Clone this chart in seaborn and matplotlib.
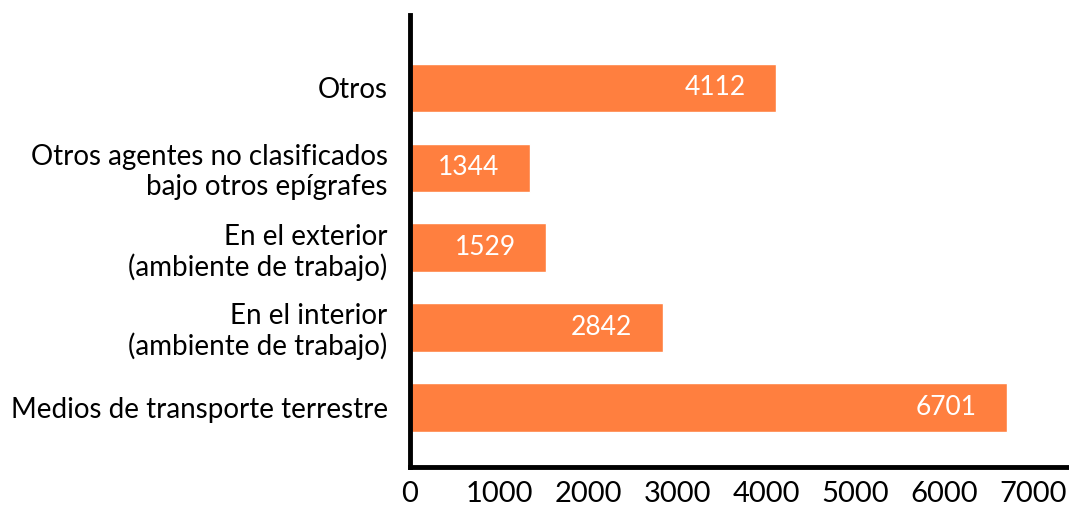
import seaborn as sns
import matplotlib.pyplot as plt
import pandas as pd

# data
categorias = ["Otros",
              "Otros agentes no clasificados\nbajo otros epígrafes",
              "En el exterior\n(ambiente de trabajo)",
              "En el interior\n(ambiente de trabajo)",
              "Medios de transporte terrestre"]
valores = [4112, 1344, 1529, 2842, 6701]
xticks = [0, 1000, 2000, 3000, 4000, 5000, 6000, 7000]

df = pd.DataFrame({"categoria": categorias, "valor": valores})

sns.set_style("white")
plt.rcParams["font.family"] = ["Lato", "DejaVu Sans"]

fig = plt.figure(figsize=(10.69, 5.08), dpi=100)
ax = fig.add_axes([0.3835, 0.081, 0.6165, 0.889])

sns.barplot(data=df, x="valor", y="categoria", color="#FF7F3F",
            saturation=1, width=0.61, ax=ax)

# value labels inside the bars
for c in ax.containers:
    ax.bar_label(c, labels=[str(v) for v in valores], padding=-22,
                 color="white", fontsize=19, label_type="edge")
for t in ax.texts:
    t.set_horizontalalignment("right")

ax.set_xlim(0, 7400)
ax.set_ylim(4.74, -0.91)
ax.set_xticks(xticks)
ax.set_xticklabels([str(x) for x in xticks], fontsize=21)
ax.set_xlabel("")
ax.set_ylabel("")
ax.tick_params(axis="both", length=0, colors="black")
ax.tick_params(axis="y", labelsize=20, pad=16)
ax.tick_params(axis="x", pad=10)
for lbl in ax.get_yticklabels():
    lbl.set_multialignment("right")
    lbl.set_linespacing(1.15)

sns.despine(ax=ax, top=True, right=True)
ax.spines["left"].set_linewidth(3.5)
ax.spines["bottom"].set_linewidth(3.5)
ax.spines["left"].set_color("black")
ax.spines["bottom"].set_color("black")

fig.savefig("out.png", dpi=100)
